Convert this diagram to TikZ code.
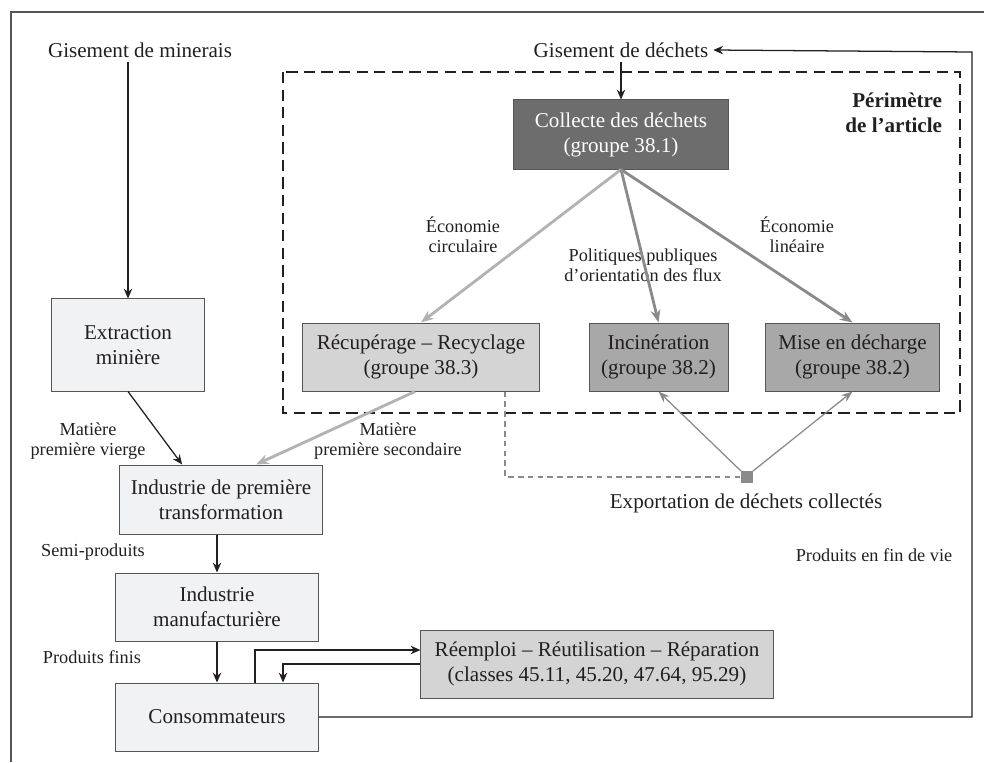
\documentclass[tikz,border=0pt]{standalone}
\usepackage{fontspec}
\setmainfont{Liberation Serif}
\usetikzlibrary{arrows.meta}
\definecolor{txt}{HTML}{231F20}
\definecolor{bord}{HTML}{555555}
\definecolor{clair}{HTML}{F1F2F4}
\definecolor{moyen}{HTML}{D4D4D4}
\definecolor{fonce}{HTML}{A8A8A8}
\definecolor{noir}{HTML}{6D6D6D}
\definecolor{flechec}{HTML}{B2B2B2}
\definecolor{flechef}{HTML}{8A8A8A}

\begin{document}
\begin{tikzpicture}[x=0.025cm,y=-0.025cm,
	grand/.style={font=\fontsize{15}{17.7}\selectfont, align=center, text=txt},
	petit/.style={font=\fontsize{13}{14.2}\selectfont, align=center, text=txt},
	boite/.style={grand, draw=bord, line width=0.7pt, inner sep=0pt, minimum height=1.7cm},
	fl/.style={-{Stealth[length=7pt,width=6pt]}, line width=0.9pt, txt},
	flc/.style={-{Stealth[length=9pt,width=7pt]}, line width=2pt, flechec},
	flf/.style={-{Stealth[length=9pt,width=7pt]}, line width=2pt, flechef},
	fle/.style={-{Stealth[length=8pt,width=6pt]}, line width=0.9pt, flechef}]
	\useasboundingbox (0,0) rectangle (984,762);
	\draw[bord, line width=1pt] (11,762) -- (11,12) -- (984,12);
	\draw[txt, line width=1.5pt, dash pattern=on 8pt off 4.5pt] (283,72) rectangle (960,413);

	\node[grand] (gismin) at (140,50) {Gisement de minerais};
	\node[grand] (gisdec) at (621,50) {Gisement de déchets};
	\node[grand, font=\fontsize{15}{17.7}\selectfont\bfseries, align=right, anchor=north east] (perim) at (947,88) {Périmètre\\de l’article};

	\node[boite, fill=clair, minimum width=3.8cm, minimum height=2.3cm] (extr) at (128,345) {Extraction\\minière};
	\node[boite, fill=clair, minimum width=5.05cm, minimum height=1.725cm] (ind1) at (221,499.5) {Industrie de première\\transformation};
	\node[boite, fill=clair, minimum width=5.05cm] (manuf) at (217,607) {Industrie\\manufacturière};
	\node[boite, fill=clair, minimum width=5.05cm] (conso) at (217,717) {Consommateurs};
	\node[boite, fill=moyen, minimum width=8.8cm] (reemp) at (597,664) {Réemploi – Réutilisation – Réparation\\(classes 45.11, 45.20, 47.64, 95.29)};
	\node[boite, fill=noir, text=white, minimum width=5.35cm, minimum height=1.725cm] (coll) at (621,134.5) {Collecte des déchets\\(groupe 38.1)};
	\node[boite, fill=moyen, minimum width=5.9cm] (recyc) at (421,357) {Récupérage – Recyclage\\(groupe 38.3)};
	\node[boite, fill=fonce, minimum width=3.475cm] (incin) at (658.5,357) {Incinération\\(groupe 38.2)};
	\node[boite, fill=fonce, minimum width=4.325cm] (mise) at (852.5,357) {Mise en décharge\\(groupe 38.2)};

	\node[petit] (circ) at (463,235) {Économie\\circulaire};
	\node[petit] (polit) at (643,265) {Politiques publiques\\d’orientation des flux};
	\node[petit] (lin) at (797,235) {Économie\\linéaire};
	\node[petit] (vierge) at (88,441) {Matière\\première vierge};
	\node[petit] (second) at (388,441) {Matière\\première secondaire};
	\node[petit] (semi) at (93,552) {Semi-produits};
	\node[petit] (finis) at (92,657) {Produits finis};
	\node[petit] (finvie) at (874,555) {Produits en fin de vie};

	\node[fill=flechef, minimum size=8pt, inner sep=0pt] (export) at (747,477) {};
	\node[grand] (exptxt) at (746,503) {Exportation de déchets collectés};

	\coordinate (coin1) at (972,717);
	\coordinate (coin2) at (972,52);

	\draw[fl] (gismin.south -| extr.north) -- (extr.north);
	\draw[fl] (extr.south) -- (ind1.138);
	\draw[fl] (ind1.south -| manuf.north) -- (manuf.north);
	\draw[fl] (manuf.south) -- (conso.north);
	\draw[fl] ([xshift=0.95cm]conso.north) |- ([yshift=0.35cm]reemp.west);
	\draw[fl] (reemp.west) -| ([xshift=1.65cm]conso.north);
	\draw[fl] (conso.east) -- (coin1) -- (coin2) -- (gisdec.east);
	\draw[fl] (gisdec.south) -- (coll.north);
	\draw[flc] (coll.south) -- (recyc.north);
	\draw[flf] (coll.south) -- (incin.north);
	\draw[flf] (coll.south) -- (mise.north);
	\draw[flc] ([xshift=-0.15cm]recyc.south) -- (ind1.45);
	\draw[flechef, line width=0.8pt, dash pattern=on 4pt off 3pt] ([xshift=2.1cm]recyc.south) |- (export.west);
	\draw[fle] (export.north west) -- (incin.south);
	\draw[fle] (export.north east) -- (mise.south);
\end{tikzpicture}
\end{document}
